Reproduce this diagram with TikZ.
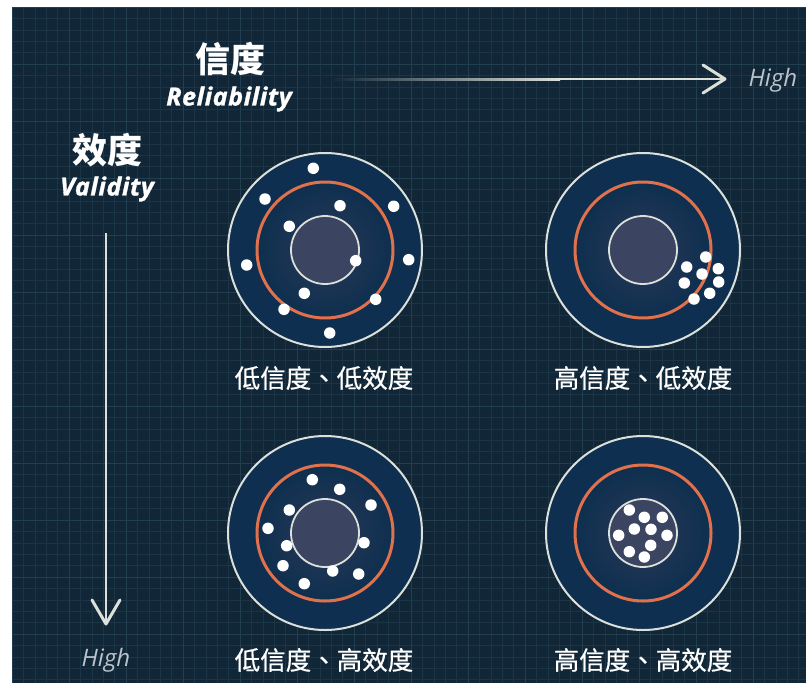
\documentclass[tikz,border=0pt]{standalone}
\usepackage{fontspec}
\usetikzlibrary{calc}
\setmainfont{Open Sans}
\newfontfamily\subfont{Open Sans}[LetterSpace=2.5, FakeBold=1.2]
\newfontfamily\cjk{Noto Sans CJK SC}
\newfontfamily\cjktc{Noto Sans CJK TC}[FakeBold=0.7]
\definecolor{bgc}{HTML}{112737}
\definecolor{gridc}{HTML}{1B3546}
\definecolor{gridm}{HTML}{223F50}
\definecolor{outerc}{HTML}{0E2F4F}
\definecolor{midin}{HTML}{2A3957}
\definecolor{innerc}{HTML}{3B4460}
\definecolor{orangec}{HTML}{E0714C}
\definecolor{ringw}{HTML}{DCE0DA}
\definecolor{highc}{HTML}{BCC4CC}
\tikzset{
  outerdisk/.style={circle, inner sep=0pt, minimum size=194pt, fill=outerc, draw=ringw, line width=2pt},
  middisk/.style={circle, inner sep=0pt, minimum size=136pt, inner color=midin, outer color=outerc, draw=orangec, line width=3pt},
  innerdisk/.style={circle, inner sep=0pt, minimum size=68pt, fill=innerc, draw=ringw, line width=1.8pt},
  dot/.style={circle, inner sep=0pt, minimum size=11.5pt, fill=white},
  lab/.style={text=white, font=\cjktc\fontsize{25.5}{25.5}\selectfont, inner sep=0pt},
  title/.style={text=white, font=\cjk\bfseries\fontsize{35}{35}\selectfont, inner sep=0pt},
  sub/.style={text=white, font=\subfont\bfseries\itshape\fontsize{25}{25}\selectfont, inner sep=0pt},
  hightxt/.style={text=highc, font=\itshape\fontsize{24}{24}\selectfont, inner sep=0pt},
  axis/.style={draw=ringw, line width=2pt},
  chev/.style={draw=ringw, line width=3pt, line cap=round, line join=round},
}
\begin{document}
\begin{tikzpicture}[x=1pt, y=-1pt]
\useasboundingbox (0,0) rectangle (806,683);
\fill[white] (0,0) rectangle (806,683);
\fill[bgc] (12,7) rectangle (806,683);
% grid
\foreach \i in {0,...,69} {
  \pgfmathsetmacro{\xx}{12+\i*11.4}
  \draw[gridc, line width=0.6pt] (\xx,7) -- (\xx,683);
}
\foreach \i in {0,...,59} {
  \pgfmathsetmacro{\yy}{7+\i*11.4}
  \draw[gridc, line width=0.6pt] (12,\yy) -- (806,\yy);
}
\foreach \i in {0,...,13} {
  \pgfmathsetmacro{\xx}{12+\i*57}
  \draw[gridm, line width=0.8pt] (\xx,7) -- (\xx,683);
}
\foreach \i in {0,...,11} {
  \pgfmathsetmacro{\yy}{7+\i*57}
  \draw[gridm, line width=0.8pt] (12,\yy) -- (806,\yy);
}

% titles
\node[title] (t1) at (230,59) {信度};
\node[sub] (s1) at (229,99) {Reliability};
\node[title] (t2) at (107,150) {效度};
\node[sub] (s2) at (107,189) {Validity};

% horizontal axis
\coordinate (hs) at (330,79);
\coordinate (hm) at (560,79);
\coordinate (he) at (725,79);
\shade[left color=bgc, right color=ringw] (330,78) rectangle (560,80);
\fill[ringw] (560,78) rectangle (722,80);
\draw[chev] ($(he)+(-22,-14)$) -- (he) -- ($(he)+(-22,14)$);
\node[hightxt] (h1) at (773,80) {High};

% vertical axis
\coordinate (vs) at (106,233);
\coordinate (ve) at (106,624);
\draw[axis] (vs) -- (ve);
\draw[chev] ($(ve)+(-14,-24)$) -- (ve) -- ($(ve)+(14,-24)$);
\node[hightxt] (h2) at (106,660) {High};

% targets
\foreach \n/\cx/\cy in {a/325/250, b/643/250, c/325/533, d/643/533} {
  \node[outerdisk] (\n o) at (\cx,\cy) {};
  \node[middisk] (\n m) at (\cx,\cy) {};
  \node[innerdisk] (\n i) at (\cx,\cy) {};
}

% dots
\foreach \x/\y [count=\k] in {313.3/168.3, 265/199, 340/205.7, 393.7/206.3, 289.3/226.3, 246.7/265, 355.7/260.7, 408.7/259.7, 304.3/293.3, 375.7/299.3, 284/309.3, 329.7/333}
  \node[dot] (da\k) at (\x,\y) {};
\foreach \x/\y [count=\k] in {705.7/257, 686.7/267, 702/274, 718.3/268.7, 684.3/283, 718.7/282, 709.7/293.3, 694/299}
  \node[dot] (db\k) at (\x,\y) {};
\foreach \x/\y [count=\k] in {312.3/479.7, 339.7/489.3, 371/505, 289.3/510, 268/528.3, 364/542.7, 286.7/545.7, 283/565.7, 332.7/571, 358.7/574, 304.3/583.7}
  \node[dot] (dc\k) at (\x,\y) {};
\foreach \x/\y [count=\k] in {629.3/510, 644.3/517.3, 662.3/517.3, 618.7/535.3, 634.3/529, 651/529.3, 667/535.3, 650.7/545.3, 629.3/551.7, 644.3/557}
  \node[dot] (dd\k) at (\x,\y) {};

% labels
\node[lab] (la) at (324,378) {低信度、低效度};
\node[lab] (lb) at (643,378) {高信度、低效度};
\node[lab] (lc) at (324,660) {低信度、高效度};
\node[lab] (ld) at (643,660) {高信度、高效度};
\end{tikzpicture}
\end{document}
